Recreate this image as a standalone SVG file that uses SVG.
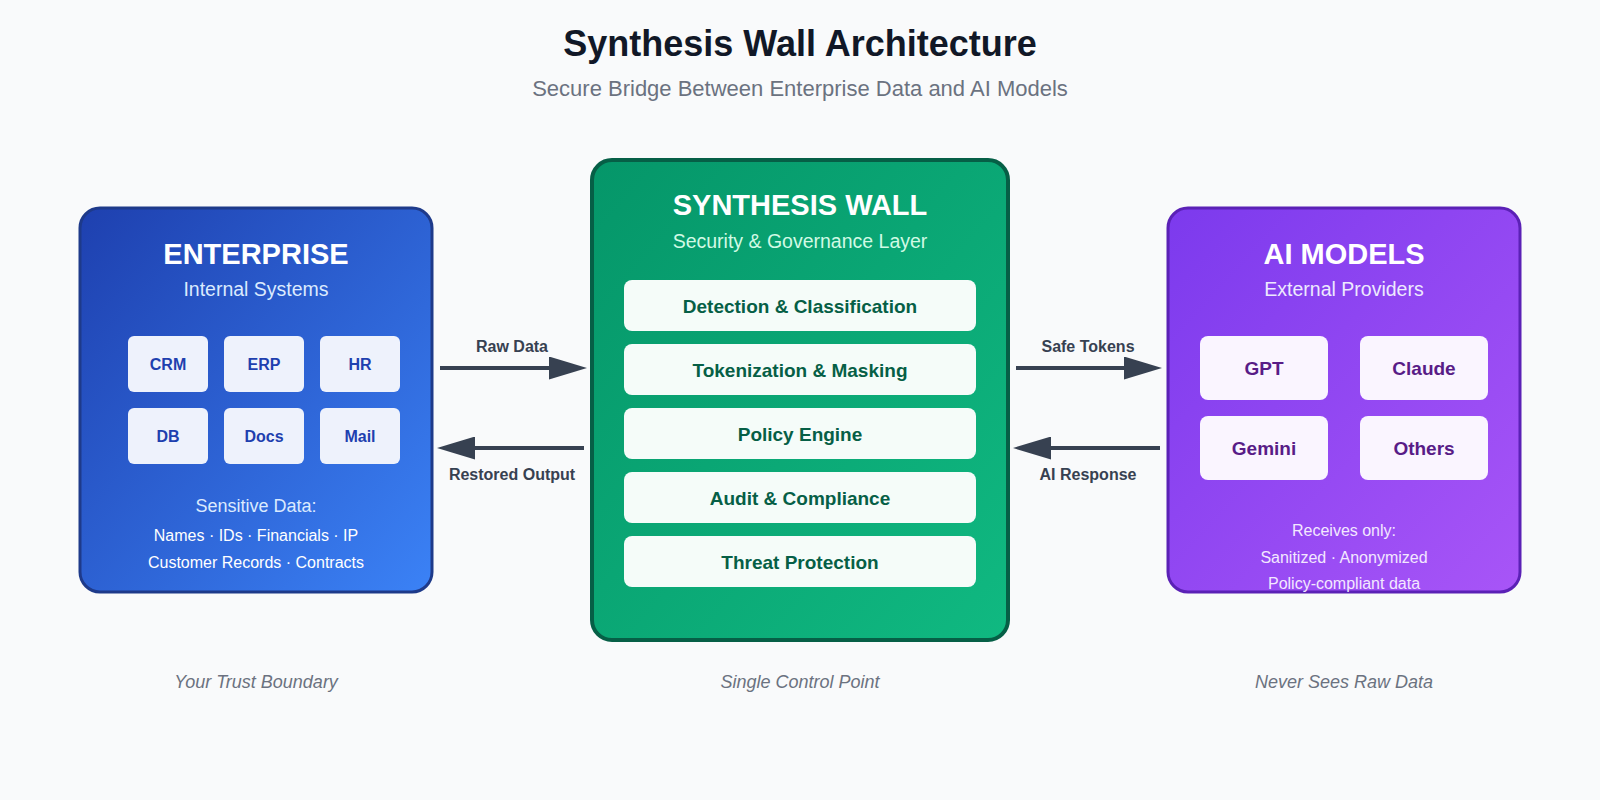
<svg xmlns="http://www.w3.org/2000/svg" width="1600" height="800" viewBox="0 0 1600 800">
  <defs>
    <linearGradient id="gBlue" x1="0" y1="0" x2="1" y2="1">
      <stop offset="0" stop-color="#1e40af"/>
      <stop offset="1" stop-color="#3b82f6"/>
    </linearGradient>
    <linearGradient id="gGreen" x1="0" y1="0" x2="1" y2="1">
      <stop offset="0" stop-color="#059669"/>
      <stop offset="1" stop-color="#10b981"/>
    </linearGradient>
    <linearGradient id="gPurple" x1="0" y1="0" x2="1" y2="1">
      <stop offset="0" stop-color="#7c3aed"/>
      <stop offset="1" stop-color="#a855f7"/>
    </linearGradient>
    <marker id="arrow" viewBox="0 0 38 23" refX="0" refY="11.5" markerWidth="38" markerHeight="23" markerUnits="userSpaceOnUse" orient="auto">
      <path d="M0,0 L38,11.5 L0,23 Z" fill="#374151"/>
    </marker>
    <style>
      text { font-family: "Liberation Sans", Arial, sans-serif; text-anchor: middle; }
      .title { font-size: 36px; font-weight: bold; fill: #111827; }
      .subtitle { font-size: 22px; fill: #6b7280; }
      .head { font-size: 29px; font-weight: bold; fill: #ffffff; }
      .sub { font-size: 19.5px; }
      .item { font-weight: bold; }
      .note { font-size: 16px; fill: #ffffff; }
      .foot { font-size: 18px; font-style: italic; fill: #6b7280; }
      .lbl { font-size: 16px; font-weight: bold; fill: #374151; }
      .conn { stroke: #374151; stroke-width: 4; fill: none; marker-end: url(#arrow); }
    </style>
  </defs>

  <rect x="0" y="0" width="1600" height="800" fill="#f9fafb"/>

  <g id="header">
    <text class="title" x="800" y="56">Synthesis Wall Architecture</text>
    <text class="subtitle" x="800" y="96">Secure Bridge Between Enterprise Data and AI Models</text>
  </g>

  <g id="enterprise">
    <rect x="80" y="208" width="352" height="384" rx="20" fill="url(#gBlue)" stroke="#1e3a8a" stroke-width="3"/>
    <text class="head" x="256" y="264">ENTERPRISE</text>
    <text class="sub" x="256" y="296" fill="#dbeafe">Internal Systems</text>
    <g fill="#eef2fc">
      <rect x="128" y="336" width="80" height="56" rx="6"/>
      <rect x="224" y="336" width="80" height="56" rx="6"/>
      <rect x="320" y="336" width="80" height="56" rx="6"/>
      <rect x="128" y="408" width="80" height="56" rx="6"/>
      <rect x="224" y="408" width="80" height="56" rx="6"/>
      <rect x="320" y="408" width="80" height="56" rx="6"/>
    </g>
    <g class="item" fill="#1e40af" font-size="16">
      <text x="168" y="370">CRM</text>
      <text x="264" y="370">ERP</text>
      <text x="360" y="370">HR</text>
      <text x="168" y="442">DB</text>
      <text x="264" y="442">Docs</text>
      <text x="360" y="442">Mail</text>
    </g>
    <text x="256" y="512" font-size="18" fill="#dbeafe">Sensitive Data:</text>
    <text class="note" x="256" y="541">Names · IDs · Financials · IP</text>
    <text class="note" x="256" y="568">Customer Records · Contracts</text>
  </g>

  <g id="synthesis-wall">
    <rect x="592" y="160" width="416" height="480" rx="20" fill="url(#gGreen)" stroke="#065f46" stroke-width="4"/>
    <text class="head" x="800" y="215">SYNTHESIS WALL</text>
    <text class="sub" x="800" y="248" fill="#d1fae5">Security &amp; Governance Layer</text>
    <g fill="#f5fcf9">
      <rect x="624" y="280" width="352" height="51" rx="8"/>
      <rect x="624" y="344" width="352" height="51" rx="8"/>
      <rect x="624" y="408" width="352" height="51" rx="8"/>
      <rect x="624" y="472" width="352" height="51" rx="8"/>
      <rect x="624" y="536" width="352" height="51" rx="8"/>
    </g>
    <g class="item" fill="#065f46" font-size="19">
      <text x="800" y="313">Detection &amp; Classification</text>
      <text x="800" y="377">Tokenization &amp; Masking</text>
      <text x="800" y="441">Policy Engine</text>
      <text x="800" y="505">Audit &amp; Compliance</text>
      <text x="800" y="569">Threat Protection</text>
    </g>
  </g>

  <g id="ai-models">
    <rect x="1168" y="208" width="352" height="384" rx="20" fill="url(#gPurple)" stroke="#5b21b6" stroke-width="3"/>
    <text class="head" x="1344" y="264">AI MODELS</text>
    <text class="sub" x="1344" y="296" fill="#ede9fe">External Providers</text>
    <g fill="#faf5ff">
      <rect x="1200" y="336" width="128" height="64" rx="8"/>
      <rect x="1360" y="336" width="128" height="64" rx="8"/>
      <rect x="1200" y="416" width="128" height="64" rx="8"/>
      <rect x="1360" y="416" width="128" height="64" rx="8"/>
    </g>
    <g class="item" fill="#581c87" font-size="19">
      <text x="1264" y="375">GPT</text>
      <text x="1424" y="375">Claude</text>
      <text x="1264" y="455">Gemini</text>
      <text x="1424" y="455">Others</text>
    </g>
    <text x="1344" y="536" font-size="16" fill="#f3e8ff">Receives only:</text>
    <text x="1344" y="563" font-size="16" fill="#f3e8ff">Sanitized · Anonymized</text>
    <text x="1344" y="589" font-size="16" fill="#f3e8ff">Policy-compliant data</text>
  </g>

  <g id="connectors">
    <line class="conn" x1="440" y1="368" x2="549" y2="368"/>
    <line class="conn" x1="584" y1="448" x2="475" y2="448"/>
    <line class="conn" x1="1016" y1="368" x2="1124" y2="368"/>
    <line class="conn" x1="1160" y1="448" x2="1051" y2="448"/>
    <text class="lbl" x="512" y="352">Raw Data</text>
    <text class="lbl" x="512" y="480">Restored Output</text>
    <text class="lbl" x="1088" y="352">Safe Tokens</text>
    <text class="lbl" x="1088" y="480">AI Response</text>
  </g>

  <g id="footer">
    <text class="foot" x="256" y="688">Your Trust Boundary</text>
    <text class="foot" x="800" y="688">Single Control Point</text>
    <text class="foot" x="1344" y="688">Never Sees Raw Data</text>
  </g>
</svg>
